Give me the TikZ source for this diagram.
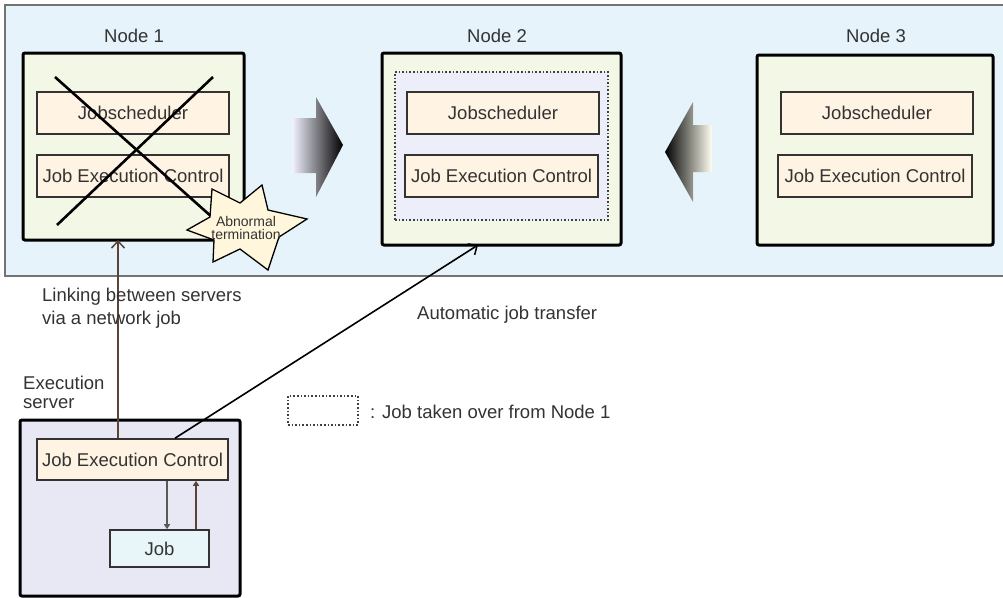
\documentclass[tikz,border=0pt]{standalone}
\usepackage{fontspec}
\setmainfont{Liberation Sans}
\usetikzlibrary{arrows.meta,calc}
\definecolor{bandblue}{HTML}{E6F3FB}
\definecolor{nodefill}{HTML}{F2F7E6}
\definecolor{compfill}{HTML}{FFF4E3}
\definecolor{takefill}{HTML}{ECEEFA}
\definecolor{execfill}{HTML}{E8E8F4}
\definecolor{jobfill}{HTML}{E8F6FA}
\definecolor{txt}{HTML}{333333}
\definecolor{brownline}{HTML}{5A4438}
\definecolor{starfill}{HTML}{FFF6DC}
\tikzset{
  bigtext/.style={font=\fontsize{18.5}{20}\selectfont, text=txt, inner sep=0pt},
  hostbox/.style={draw=black, line width=3pt, fill=nodefill, rounded corners=2pt, inner sep=0pt},
  compbox/.style={draw=black!80, line width=1.6pt, fill=compfill, minimum width=192pt, minimum height=42pt, inner sep=0pt, font=\fontsize{18.5}{20}\selectfont, text=txt},
  takebox/.style={draw=black!75, line width=1.6pt, dotted, fill=takefill, inner sep=0pt},
  link/.style={line width=1.6pt, -{Straight Barb[length=7pt,width=13pt,line width=1.5pt]}},
  small/.style={line width=1.5pt, -{Triangle[length=5pt,width=6pt]}}
}
\begin{document}
\begin{tikzpicture}[x=1pt,y=-1pt]
\useasboundingbox (0,0) rectangle (1003,597);
\clip (0,0) rectangle (1003,597);
\fill[white] (0,0) rectangle (1003,597);
% band
\draw[fill=bandblue, draw=black!55, line width=2pt] (5,5) rectangle (1010,276);
% Node labels
\node[bigtext] (lab1) at (134,36) {Node 1};
\node[bigtext] (lab2) at (497,36) {Node 2};
\node[bigtext] (lab3) at (876,36) {Node 3};
% host boxes
\node[hostbox, minimum width=221pt, minimum height=187pt] (n1) at (133.5,146.5) {};
\node[hostbox, minimum width=239pt, minimum height=192pt] (n2) at (501.5,149) {};
\node[hostbox, minimum width=236pt, minimum height=190pt] (n3) at (875,150) {};
\node[takebox, minimum width=213pt, minimum height=148pt] (take) at (501.5,146) {};
% components
\node[compbox] (js1) at (133,113) {Jobscheduler};
\node[compbox] (jec1) at (133,176) {Job Execution Control};
\node[compbox] (js2) at (503,113) {Jobscheduler};
\node[compbox, minimum width=193pt] (jec2) at (501.5,176) {Job Execution Control};
\node[compbox] (js3) at (877,113) {Jobscheduler};
\node[compbox, minimum width=194pt] (jec3) at (875,176) {Job Execution Control};
% cross
\draw[line width=2.6pt] (55,77) -- (213,218);
\draw[line width=2.6pt] (213,77) -- (57,225);
% star
\draw[fill=starfill, draw=black, line width=1.3pt, line join=miter]
  (187,230) -- (210,217) -- (212,189) -- (240,203) -- (262,185) -- (268,210)
  -- (307,219) -- (279,237) -- (268,270) -- (240,249) -- (213,262) -- (214,240) -- cycle;
\node[font=\fontsize{14}{12.5}\selectfont, text=txt, align=center, inner sep=0pt] (abn) at (246,228) {Abnormal\\termination};
% big shaded arrows
\shade[left color=white!95!blue, middle color=black!40, right color=black]
  (292,118) -- (316,118) -- (316,97) -- (343,145) -- (316,197) -- (316,173) -- (292,173) -- cycle;
\shade[left color=black, middle color=black!40, right color=white!95!yellow]
  (665,152) -- (693,102) -- (693,125) -- (712,125) -- (712,172) -- (693,172) -- (693,202) -- cycle;
% execution server
\node[bigtext, align=left, anchor=north west, font=\fontsize{18.5}{19}\selectfont] (exlab) at (23,376) {Execution\\server};
\node[hostbox, fill=execfill, minimum width=220pt, minimum height=176pt] (ex) at (130,508) {};
\node[compbox, minimum width=191pt, minimum height=41pt] (ejec) at (132.5,459.5) {Job Execution Control};
\node[compbox, fill=jobfill, minimum width=99pt, minimum height=37pt] (job) at (159.5,548.5) {Job};
\coordinate (dx) at (167,0);
\coordinate (ux) at (196,0);
\draw[small, draw=black!65, fill=black!65] (dx |- ejec.south) -- (dx |- job.north);
\draw[small, draw=brownline, fill=brownline] (ux |- job.north) -- (ux |- ejec.south);
% connectors
\coordinate (lx) at (118,0);
\draw[link, draw=brownline] (lx |- ejec.north) -- ([yshift=1.5pt]lx |- n1.south);
\draw[link, draw=black] ([xshift=42.5pt]ejec.north) -- ([xshift=-23.5pt,yshift=1.5pt]n2.south);
% labels
\node[bigtext, align=left, anchor=west, font=\fontsize{18.5}{23}\selectfont] (linklab) at (42,308) {Linking between servers\\via a network job};
\node[bigtext, anchor=west] (autolab) at (417,315) {Automatic job transfer};
% legend
\node[draw=black!75, line width=1.6pt, dotted, minimum width=70pt, minimum height=29pt, inner sep=0pt] (leg) at (323,410.5) {};
\node[bigtext, anchor=west] (legtext) at (370,412) {: Job taken over from Node 1};
\end{tikzpicture}
\end{document}
